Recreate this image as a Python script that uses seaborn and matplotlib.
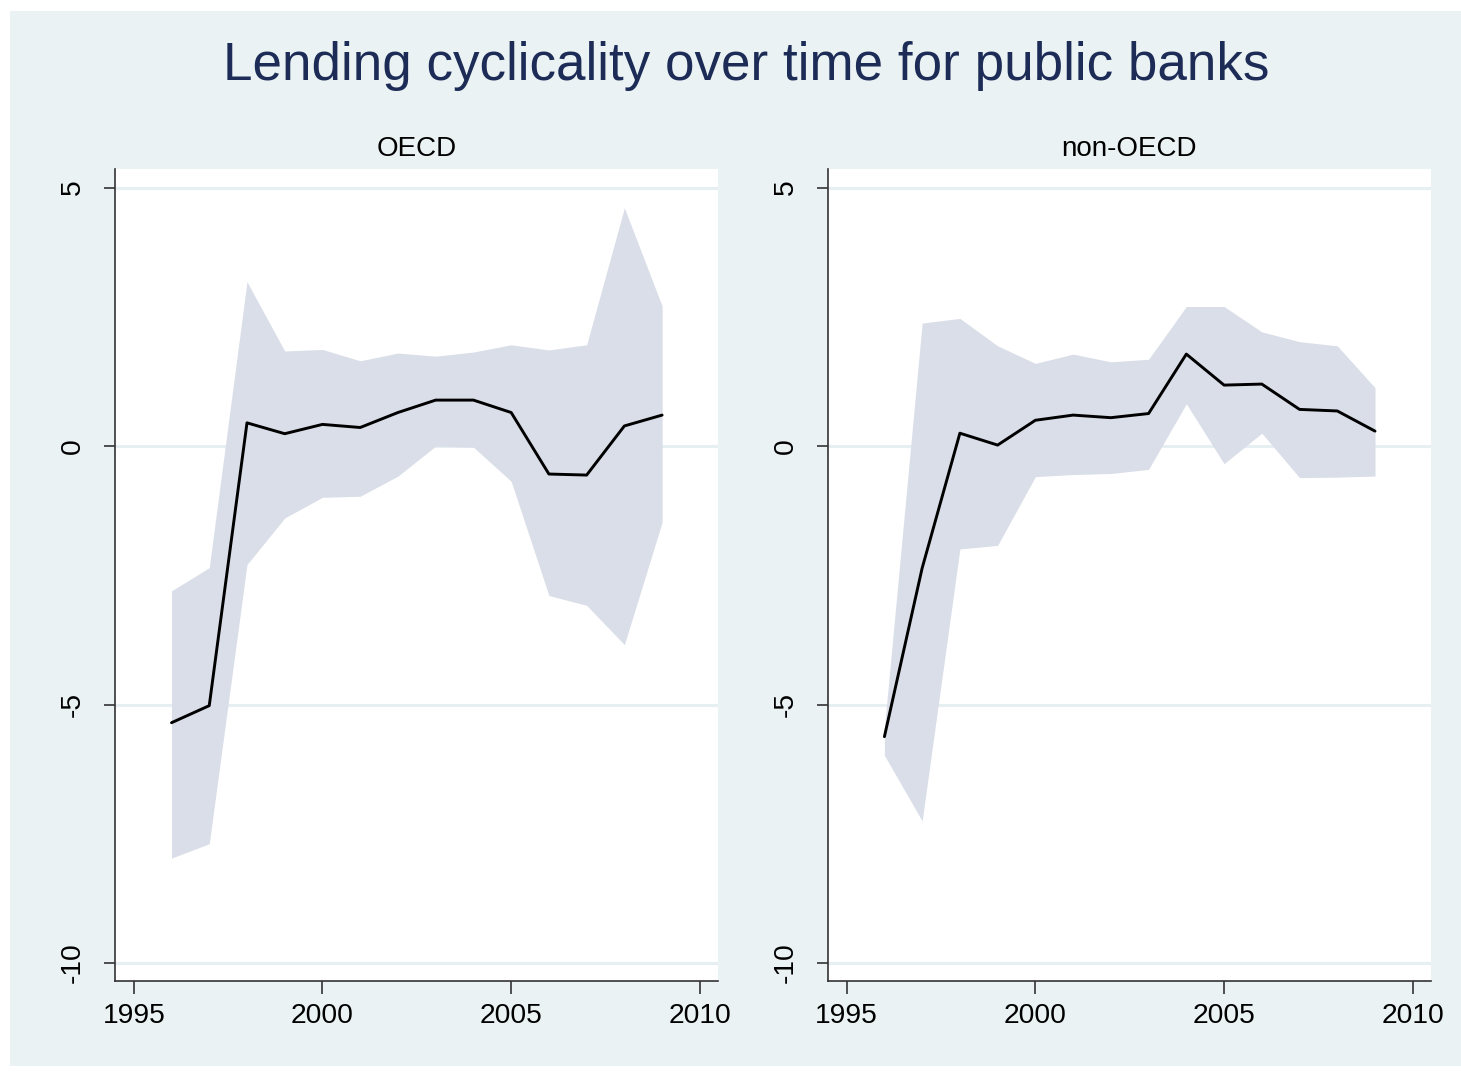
import matplotlib
matplotlib.use("Agg")
import matplotlib.pyplot as plt
from matplotlib.patches import Rectangle
import numpy as np
import pandas as pd
import seaborn as sns

# Yearly lending-cyclicality estimates with confidence bounds
years = list(range(1996, 2010))

oecd_coef = [-5.35, -5.02, 0.45, 0.24, 0.42, 0.36, 0.65, 0.89, 0.89, 0.65, -0.54, -0.56, 0.39, 0.60]
oecd_upper = [-2.80, -2.35, 3.18, 1.84, 1.87, 1.65, 1.80, 1.74, 1.82, 1.96, 1.86, 1.96, 4.61, 2.71]
oecd_lower = [-7.97, -7.69, -2.29, -1.39, -0.99, -0.97, -0.58, 0.00, -0.02, -0.68, -2.89, -3.08, -3.84, -1.47]

nonoecd_coef = [-5.62, -2.36, 0.25, 0.02, 0.50, 0.60, 0.55, 0.63, 1.78, 1.18, 1.20, 0.71, 0.68, 0.29]
nonoecd_upper = [-5.45, 2.38, 2.47, 1.94, 1.60, 1.78, 1.63, 1.68, 2.70, 2.70, 2.21, 2.02, 1.94, 1.13]
nonoecd_lower = [-5.98, -7.25, -1.99, -1.92, -0.59, -0.55, -0.53, -0.45, 0.82, -0.34, 0.25, -0.61, -0.60, -0.58]

panel_titles = ["OECD", "non-OECD"]
x_ticks = [1995, 2000, 2005, 2010]
y_ticks = [-10, -5, 0, 5]
main_title = "Lending cyclicality over time for public banks"

frames = {
    "OECD": pd.DataFrame({"year": years, "coef": oecd_coef, "upper": oecd_upper, "lower": oecd_lower}),
    "non-OECD": pd.DataFrame({"year": years, "coef": nonoecd_coef, "upper": nonoecd_upper, "lower": nonoecd_lower}),
}

sns.set_theme(style="white")
plt.rcParams["font.family"] = ["Liberation Sans", "DejaVu Sans"]

BG = "#eaf2f3"
BAND = "#d9dee8"
GRID = "#e6eff1"
SPINE = "#333333"
TITLE = "#1c2c57"

W, H = 1461, 1074
fig = plt.figure(figsize=(W / 100, H / 100), dpi=100, facecolor="white")

# Outer graph region, kept behind the panels
fig.patches.append(Rectangle((10 / W, 1 - 1066 / H), (1461 - 10) / W, (1066 - 11) / H,
                             transform=fig.transFigure, facecolor=BG, edgecolor="none", zorder=-10))

fig.text(746 / W, 1 - 66 / H, main_title, ha="center", va="center",
         fontsize=38.2, color=TITLE, zorder=5)

bottom = 1 - 980.7 / H
height = (980.7 - 169) / H
lefts = [114.9 / W, 827.8 / W]
width = 602.7 / W

for name, left in zip(panel_titles, lefts):
    ax = fig.add_axes([left, bottom, width, height])
    ax.set_zorder(1)
    ax.set_facecolor("white")
    df = frames[name]
    for yv in y_ticks:
        ax.axhline(yv, color=GRID, lw=2.2, zorder=0.5)
    ax.fill_between(df["year"], df["lower"], df["upper"], color=BAND, lw=0, zorder=1)
    sns.lineplot(data=df, x="year", y="coef", ax=ax, color="black", lw=2.1, zorder=2)
    ax.set_xlim(1994.5, 2010.47)
    ax.set_ylim(-10.34, 5.36)
    ax.set_xticks(x_ticks)
    ax.set_yticks(y_ticks)
    ax.set_xticklabels([str(t) for t in x_ticks], fontsize=20.3, color="black")
    ax.set_yticklabels([str(t) for t in y_ticks], fontsize=20.3, rotation=90, va="center", color="black")
    ax.set_xlabel("")
    ax.set_ylabel("")
    ax.grid(False)
    for side in ["top", "right"]:
        ax.spines[side].set_visible(False)
    for side in ["left", "bottom"]:
        ax.spines[side].set_color(SPINE)
        ax.spines[side].set_linewidth(1.2)
    ax.tick_params(axis="x", which="major", length=9, width=1.2, color=SPINE, pad=7, bottom=True)
    ax.tick_params(axis="y", which="major", length=8, width=1.2, color=SPINE, pad=13, left=True)
    ax.set_title(name, fontsize=20, color="black", pad=9)

fig.savefig("out.png", dpi=100, facecolor="white")
